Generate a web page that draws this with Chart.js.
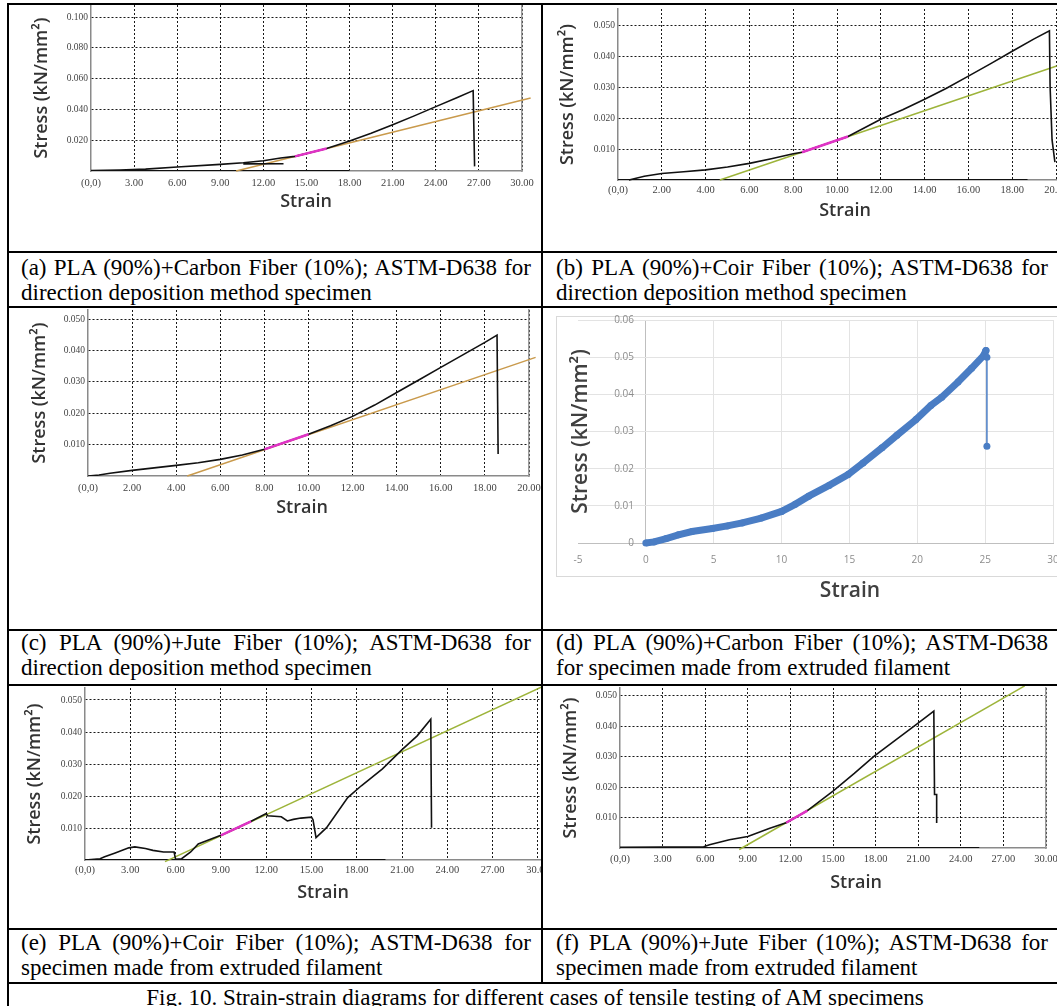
<!DOCTYPE html>
<html>
<head>
<meta charset="utf-8">
<title>Fig. 10 - Strain-strain diagrams</title>
<script src="https://cdn.jsdelivr.net/npm/chart.js@4.4.1/dist/chart.umd.min.js"></script>
<style>
html, body { margin: 0; padding: 0; background: #fff; overflow: hidden; width: 1057px; height: 1006px; }
.ln { position: absolute; background: #000; }
.cell { position: absolute; overflow: hidden; }
.cell canvas { position: absolute; left: 0; top: 0; }
.cap { position: absolute; font-family: 'Liberation Serif', 'Times New Roman', serif; font-size: 23px; line-height: 25px; text-align: justify; color: #000; }
#fig { left: 0; width: 1070px; text-align: center; }
.xlbox { position: absolute; border: 1px solid #d9d9d9; }
</style>
</head>
<body>

<!-- excel style frame of panel (d) -->
<div class="xlbox" style="left:556px;top:316px;width:520px;height:259px"></div>

<div class="cell" style="left:9px;top:5px;width:532px;height:246px"><canvas id="ca" width="532" height="246"></canvas></div>
<div class="cell" style="left:543px;top:5px;width:514px;height:246px"><canvas id="cb" width="530" height="246"></canvas></div>
<div class="cell" style="left:9px;top:308px;width:532px;height:321px"><canvas id="cc" width="532" height="321"></canvas></div>
<div class="cell" style="left:543px;top:308px;width:514px;height:321px"><canvas id="cd" width="530" height="321"></canvas></div>
<div class="cell" style="left:9px;top:686px;width:532px;height:242px"><canvas id="ce" width="560" height="242"></canvas></div>
<div class="cell" style="left:543px;top:686px;width:514px;height:242px"><canvas id="cf" width="530" height="242"></canvas></div>

<!-- table rules -->
<div class="ln" style="left:7px;top:3px;width:1060px;height:2px"></div>
<div class="ln" style="left:7px;top:251px;width:1060px;height:2px"></div>
<div class="ln" style="left:7px;top:306px;width:1060px;height:2px"></div>
<div class="ln" style="left:7px;top:629px;width:1060px;height:2px"></div>
<div class="ln" style="left:7px;top:684px;width:1060px;height:2px"></div>
<div class="ln" style="left:7px;top:928px;width:1060px;height:2px"></div>
<div class="ln" style="left:7px;top:982px;width:1060px;height:2px"></div>
<div class="ln" style="left:7px;top:3px;width:2px;height:1010px"></div>
<div class="ln" style="left:541px;top:3px;width:2px;height:981px"></div>

<div class="cap" style="left:21px;top:255px;width:510px">(a) PLA (90%)+Carbon Fiber (10%); ASTM-D638 for direction deposition method specimen</div>
<div class="cap" style="left:556px;top:255px;width:492px">(b) PLA (90%)+Coir Fiber (10%); ASTM-D638 for direction deposition method specimen</div>
<div class="cap" style="left:21px;top:630px;width:510px">(c) PLA (90%)+Jute Fiber (10%); ASTM-D638 for direction deposition method specimen</div>
<div class="cap" style="left:556px;top:630px;width:492px">(d) PLA (90%)+Carbon Fiber (10%); ASTM-D638 for specimen made from extruded filament</div>
<div class="cap" style="left:21px;top:930px;width:510px">(e) PLA (90%)+Coir Fiber (10%); ASTM-D638 for specimen made from extruded filament</div>
<div class="cap" style="left:556px;top:930px;width:492px">(f) PLA (90%)+Jute Fiber (10%); ASTM-D638 for specimen made from extruded filament</div>
<div class="cap" id="fig" style="top:985px">Fig. 10. Strain-strain diagrams for different cases of tensile testing of AM specimens</div>

<script>
// values (strain, stress in kN/mm2)

// (a) carbon fibre, direction deposition
const aCurveX = [0, 2, 3.8, 6, 9, 10.6, 12, 13.2, 14.2, 16.4, 18, 19.5, 21, 22.5, 24, 25.5, 26.6, 26.7];
const aCurveY = [0.0003, 0.0006, 0.0012, 0.0026, 0.0043, 0.0054, 0.0067, 0.0084, 0.0095, 0.0146, 0.0195, 0.0245, 0.0300, 0.0358, 0.0418, 0.0478, 0.0522, 0.0030];
const aHookX = [10.6, 13.4];
const aHookY = [0.0046, 0.0047];
const aMagX = [14.2, 16.4];
const aMagY = [0.0095, 0.0146];
const aFitX = [10.1, 30.6];
const aFitY = [0, 0.0474];
const aBaseX = [0, 18];
const aBaseY = [0, 0];

// (b) coir fibre, direction deposition
const bCurveX = [0.5, 1.2, 2, 3, 4, 5, 6, 7, 8, 8.4, 10.5, 12, 13, 14, 15, 16, 17, 18, 19, 19.7, 19.73, 19.82, 19.95];
const bCurveY = [0, 0.0012, 0.0021, 0.0027, 0.0033, 0.0042, 0.0054, 0.0069, 0.0085, 0.0090, 0.0141, 0.0197, 0.0228, 0.0262, 0.0298, 0.0337, 0.0377, 0.0418, 0.0458, 0.0484, 0.0304, 0.0130, 0.0058];
const bMagX = [8.4, 10.5];
const bMagY = [0.0090, 0.0141];
const bFitX = [4.65, 20.03];
const bFitY = [0, 0.037];
const bBaseX = [0, 18.7];
const bBaseY = [0, 0];

// (c) jute fibre, direction deposition
const cCurveX = [0, 0.5, 1, 2, 3, 4, 5, 6, 7, 8, 10, 11, 12, 13, 14, 15, 16, 17, 18, 18.55, 18.6];
const cCurveY = [0, 0.0003, 0.0009, 0.0018, 0.0026, 0.0034, 0.0042, 0.0053, 0.0067, 0.0085, 0.0133, 0.0160, 0.0190, 0.0226, 0.0266, 0.0306, 0.0346, 0.0386, 0.0426, 0.0449, 0.0070];
const cMagX = [8, 10];
const cMagY = [0.0085, 0.0133];
const cFitX = [4.5, 20.3];
const cFitY = [0, 0.0378];

// (d) carbon fibre, extruded filament (excel export)
const dX = [0, 0.6, 1.5, 2.4, 3.4, 4.9, 6, 7.1, 8.5, 10, 11, 12, 13.5, 14.9, 16, 17.4, 18.5, 19.9, 21, 21.8, 23, 24, 24.9, 25.06];
const dY = [0, 0.0003, 0.0012, 0.0022, 0.0031, 0.0039, 0.0046, 0.0054, 0.0067, 0.0085, 0.0104, 0.0126, 0.0155, 0.0184, 0.0215, 0.0256, 0.0290, 0.0332, 0.0370, 0.0392, 0.0433, 0.0470, 0.0505, 0.0518];
const dDropX = [25.06, 25.13, 25.13];
const dDropY = [0.0518, 0.0500, 0.0260];

// (e) coir fibre, extruded filament
const eCurveX = [0, 1.0, 1.3, 2.0, 2.9, 3.3, 4.0, 4.5, 5.2, 5.9, 6.0, 6.4, 7.0, 7.5, 9.0, 11.0, 12.0, 12.1, 13.0, 13.4, 13.8, 14.3, 15.0, 15.1, 15.3, 16.0, 17.4, 18.3, 19.7, 21.0, 22.0, 22.9, 22.95];
const eCurveY = [0, 0.0004, 0.0010, 0.0022, 0.0038, 0.0041, 0.0036, 0.0030, 0.0025, 0.0025, 0.0002, 0.0004, 0.0025, 0.0050, 0.0077, 0.0121, 0.0145, 0.0138, 0.0135, 0.0122, 0.0127, 0.0131, 0.0134, 0.0126, 0.0070, 0.0101, 0.0195, 0.0232, 0.0285, 0.0345, 0.0388, 0.0440, 0.0101];
const eMagX = [9.0, 11.0];
const eMagY = [0.0077, 0.0121];
const eFitX = [5.3, 30.3];
const eFitY = [-0.0005, 0.0542];
const eBaseX = [0, 19.9];
const eBaseY = [0, 0];

// (f) jute fibre, extruded filament
const fCurveX = [0, 5.9, 6.3, 7.0, 7.7, 9.0, 10.5, 11.7, 13.2, 15.0, 16.5, 17.9, 19.4, 20.9, 22.1, 22.15, 22.3, 22.3];
const fCurveY = [0.0002, 0.0004, 0.0011, 0.0019, 0.0027, 0.0038, 0.0064, 0.0083, 0.0123, 0.0187, 0.0245, 0.0302, 0.0355, 0.0407, 0.0450, 0.0176, 0.0176, 0.0082];
const fMagX = [11.7, 13.2];
const fMagY = [0.0083, 0.0123];
const fFitX = [8.4, 28.5];
const fFitY = [-0.0005, 0.0533];
const fBaseX = [0, 25.3];
const fBaseY = [0, 0];

const BLACK = '#111';
const MAGENTA = '#e032c6';
const TAN = '#c99a4c';
const OLIVE = '#9db43a';
const DOT = 'rgba(0,0,0,0.9)';
const NONE = 'rgba(0,0,0,0)';

Chart.defaults.font.family = 'Open Sans';

const pts = (xs, ys) => xs.map((x, i) => ({ x: x, y: ys[i] }));

function trace(xs, ys, color, width, more) {
    return Object.assign({
        data: pts(xs, ys),
        showLine: true,
        borderColor: color,
        backgroundColor: color,
        borderWidth: width,
        pointRadius: 0,
        tension: 0,
        fill: false
    }, more || {});
}

// scales get their size forced in afterFit, so drop the label overflow padding too
function zeroPad(s) {
    s.paddingLeft = s.paddingRight = s.paddingTop = s.paddingBottom = 0;
}

// the x axis title is not centred on the plot in the original, so it is placed by hand
const xTitle = {
    id: 'xTitle',
    afterDraw(chart, args, o) {
        const ctx = chart.ctx;
        ctx.save();
        ctx.font = o.font;
        ctx.fillStyle = o.color;
        ctx.textAlign = 'center';
        ctx.textBaseline = 'middle';
        ctx.fillText(o.text, o.x, o.y);
        ctx.restore();
    }
};

// testing machine software plot (dotted grid)
function machineChart(id, g, datasets) {
    const cv = document.getElementById(id);
    const gridColor = c => (c.tick && c.tick.value === 0) ? NONE : DOT;
    const scales = {
        x: {
            type: 'linear', min: 0, max: g.xMax,
            ticks: {
                stepSize: g.xStep, includeBounds: false, autoSkip: false, maxRotation: 0,
                padding: g.xPad, color: '#444', font: { family: 'Liberation Serif', size: 10.5 },
                callback: v => v === 0 ? '(0,0)' : v.toFixed(2)
            },
            grid: { drawTicks: false, lineWidth: 1, color: gridColor },
            border: { color: '#8a8a8a', width: 1.5, dash: [2, 2] },
            afterFit: s => { s.height = cv.height - g.bottom; zeroPad(s); }
        },
        y: {
            type: 'linear', min: 0, max: g.yMax,
            ticks: {
                stepSize: g.yStep, includeBounds: false, padding: 3, color: '#444',
                font: { family: 'Liberation Serif', size: 9.5 },
                callback: v => v === 0 ? '' : v.toFixed(3)
            },
            grid: { drawTicks: false, lineWidth: 1, color: gridColor },
            border: { color: '#8a8a8a', width: 1.5, dash: [2, 2] },
            title: {
                display: true, text: 'Stress (kN/mm²)', color: '#333',
                font: { family: 'Open Sans', size: 18, weight: '600' },
                padding: { top: g.yTitle - 10.8, bottom: 0 }
            },
            afterFit: s => { s.width = g.left; zeroPad(s); }
        }
    };
    if (g.frame) {
        scales.frame = {
            axis: 'y', type: 'linear', position: 'right', display: true, min: 0, max: 1,
            ticks: { display: false },
            grid: { display: false, drawTicks: false },
            border: { display: true, color: '#9a9a9a', width: 1.5 },
            afterFit: s => { s.width = 0; zeroPad(s); }
        };
    }
    return new Chart(cv, {
        type: 'scatter',
        data: { datasets: datasets },
        options: {
            responsive: false,
            animation: false,
            events: [],
            layout: { autoPadding: false, padding: { left: 0, top: g.top, right: cv.width - g.right, bottom: 0 } },
            plugins: {
                legend: { display: false },
                tooltip: { enabled: false },
                xTitle: { text: 'Strain', x: g.tx, y: g.ty, font: '600 18px "Open Sans"', color: '#333' }
            },
            scales: scales
        },
        plugins: [xTitle]
    });
}

machineChart('ca',
    { left: 82, right: 513, top: 0, bottom: 166, xMax: 30, xStep: 3, yMax: 0.1078, yStep: 0.02, yTitle: 33, xPad: 6, tx: 297, ty: 197, frame: true },
    [
        trace(aMagX, aMagY, MAGENTA, 2.5),
        trace(aCurveX, aCurveY, BLACK, 1.6),
        trace(aHookX, aHookY, BLACK, 1.6),
        trace(aFitX, aFitY, TAN, 1.5, { clip: false }),
        trace(aBaseX, aBaseY, BLACK, 2)
    ]);

machineChart('cb',
    { left: 75, right: 513, top: 4, bottom: 175, xMax: 20, xStep: 2, yMax: 0.0555, yStep: 0.01, yTitle: 25, xPad: 4, tx: 302, ty: 206 },
    [
        trace(bMagX, bMagY, MAGENTA, 2.5),
        trace(bCurveX, bCurveY, BLACK, 1.6, { clip: false }),
        trace(bFitX, bFitY, OLIVE, 1.5, { clip: false }),
        trace(bBaseX, bBaseY, BLACK, 2)
    ]);

machineChart('cc',
    { left: 79, right: 520, top: 2, bottom: 168, xMax: 20, xStep: 2, yMax: 0.0529, yStep: 0.01, yTitle: 31, xPad: 6, tx: 293, ty: 200, frame: true },
    [
        trace(cMagX, cMagY, MAGENTA, 2.5),
        trace(cCurveX, cCurveY, BLACK, 1.6),
        trace(cFitX, cFitY, TAN, 1.5, { clip: false })
    ]);

machineChart('ce',
    { left: 76, right: 532, top: 2, bottom: 174, xMax: 30.2, xStep: 3, yMax: 0.05375, yStep: 0.01, yTitle: 26, xPad: 4, tx: 314, ty: 207 },
    [
        trace(eMagX, eMagY, MAGENTA, 2.5),
        trace(eCurveX, eCurveY, BLACK, 1.6),
        trace(eFitX, eFitY, OLIVE, 1.5, { clip: false }),
        trace(eBaseX, eBaseY, BLACK, 2)
    ]);

machineChart('cf',
    { left: 77, right: 503, top: 2, bottom: 162, xMax: 30, xStep: 3, yMax: 0.0526, yStep: 0.01, yTitle: 28, xPad: 5, tx: 313, ty: 197, frame: true },
    [
        trace(fMagX, fMagY, MAGENTA, 2.5),
        trace(fCurveX, fCurveY, BLACK, 1.6),
        trace(fFitX, fFitY, OLIVE, 1.5, { clip: false }),
        trace(fBaseX, fBaseY, BLACK, 2)
    ]);

// (d) excel scatter: y axis crosses at strain 0, labels sit next to it
(function () {
    const cv = document.getElementById('cd');
    const g = { left: 35, right: 510, top: 12, bottom: 235 };
    const BLUE = '#4a7dc4';
    const lightGrid = c => {
        if (!c.tick) return '#e3e3e3';
        if (c.tick.value === 0) return c.scale.axis === 'x' ? '#bfbfbf' : NONE;
        if (c.tick.value === -5) return NONE;
        return '#e3e3e3';
    };
    const tickFont = { family: 'Open Sans', size: 10 };
    new Chart(cv, {
        type: 'scatter',
        data: {
            datasets: [
                trace(dDropX, dDropY, BLUE, 1.5, { pointRadius: 3.5, pointBorderWidth: 0, clip: false }),
                trace(dX, dY, BLUE, 7, { pointRadius: 3.5, pointBorderWidth: 0, clip: false })
            ]
        },
        options: {
            responsive: false,
            animation: false,
            events: [],
            layout: { autoPadding: false, padding: { left: 0, top: g.top, right: cv.width - g.right, bottom: 0 } },
            plugins: {
                legend: { display: false },
                tooltip: { enabled: false },
                xTitle: { text: 'Strain', x: 307, y: 283, font: '600 21px "Open Sans"', color: '#404040' }
            },
            scales: {
                x: {
                    type: 'linear', min: -5, max: 30,
                    ticks: { stepSize: 5, autoSkip: false, maxRotation: 0, padding: 11, color: '#8c8c8c', font: tickFont },
                    grid: { drawTicks: false, lineWidth: 1, color: lightGrid },
                    border: { color: '#bfbfbf', width: 1 },
                    afterFit: s => { s.height = cv.height - g.bottom; zeroPad(s); }
                },
                y: {
                    type: 'linear', min: 0, max: 0.06,
                    ticks: { stepSize: 0.01, display: false },
                    grid: { drawTicks: false, lineWidth: 1, color: lightGrid },
                    border: { display: false },
                    title: {
                        display: true, text: 'Stress (kN/mm²)', color: '#404040',
                        font: { family: 'Open Sans', size: 21, weight: '600' },
                        padding: { top: 25.4, bottom: 0 }
                    },
                    afterFit: s => { s.width = g.left; zeroPad(s); }
                },
                yLab: {
                    axis: 'y', type: 'linear', position: { x: -0.88 }, min: 0, max: 0.06,
                    ticks: {
                        stepSize: 0.01, padding: 0, color: '#8c8c8c', font: tickFont,
                        callback: v => v === 0 ? '0' : v.toFixed(2)
                    },
                    grid: { display: false, drawTicks: false },
                    border: { display: false },
                    afterFit: s => { zeroPad(s); }
                }
            }
        },
        plugins: [xTitle]
    });
})();
</script>
</body>
</html>
